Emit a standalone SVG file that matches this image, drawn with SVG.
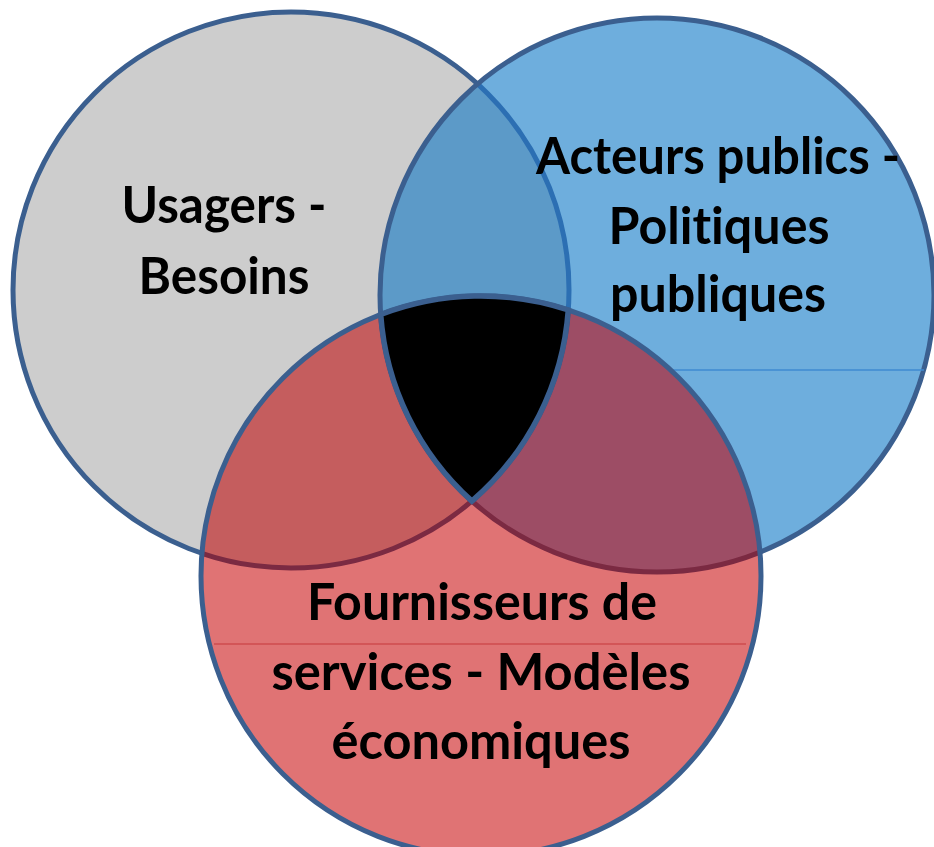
<svg xmlns="http://www.w3.org/2000/svg" width="934" height="847" viewBox="0 0 934 847">
  <style>
    .lbl { font-family: Lato, "Open Sans", "Liberation Sans", sans-serif; font-weight: bold; font-size: 51px; fill: #000; text-anchor: middle; font-variant-ligatures: none; font-feature-settings: "liga" 0, "clig" 0; }
    .edge { fill: none; stroke: #3b5f8f; stroke-width: 5; }
  </style>
  <defs>
    <circle id="cG" cx="291" cy="290" r="278"/>
    <circle id="cB" cx="657" cy="295" r="277"/>
    <circle id="cR" cx="481" cy="576" r="280"/>
    <clipPath id="clipG"><use href="#cG"/></clipPath>
    <clipPath id="clipB"><use href="#cB"/></clipPath>
    <clipPath id="clipR"><use href="#cR"/></clipPath>
  </defs>
  <rect width="934" height="847" fill="#ffffff"/>

  <g id="usagers">
    <use href="#cG" fill="#cdcdcd"/>
    <use href="#cG" class="edge"/>
  </g>

  <g id="acteurs">
    <use href="#cB" fill="#6eaedd"/>
    <use href="#cB" fill="#5c9ac8" clip-path="url(#clipG)"/>
    <use href="#cG" fill="none" stroke="#2c6fb3" stroke-width="5" clip-path="url(#clipB)"/>
    <use href="#cB" class="edge"/>
    <line x1="562" y1="370" x2="924" y2="370" stroke="#3f8ad0" stroke-width="1.5"/>
  </g>

  <g id="fournisseurs">
    <use href="#cR" fill="#e07374"/>
    <use href="#cR" fill="#c55d5e" clip-path="url(#clipG)"/>
    <use href="#cR" fill="#9d4d65" clip-path="url(#clipB)"/>
    <g clip-path="url(#clipR)">
      <use href="#cG" fill="none" stroke="#7b2a42" stroke-width="5"/>
      <use href="#cB" fill="none" stroke="#7b2a42" stroke-width="5"/>
    </g>
    <line x1="214" y1="644" x2="746" y2="644" stroke="#cf4b4e" stroke-width="1.5"/>
    <use href="#cR" class="edge"/>
  </g>

  <g id="centre">
    <path d="M 380.7,314.5 A 280 280 0 0 1 568.3,310 A 278 278 0 0 1 471.9,501.1 A 277 277 0 0 1 380.7,314.5 Z" fill="#000000" stroke="#3b5f8f" stroke-width="5.5" stroke-linejoin="miter"/>
  </g>

  <g id="labels">
    <text class="lbl" x="224" y="223" textLength="205" lengthAdjust="spacingAndGlyphs">Usagers -</text>
    <text class="lbl" x="224" y="294" textLength="171" lengthAdjust="spacingAndGlyphs">Besoins</text>
    <text class="lbl" x="718" y="174" textLength="364" lengthAdjust="spacingAndGlyphs">Acteurs publics -</text>
    <text class="lbl" x="719" y="244" textLength="221" lengthAdjust="spacingAndGlyphs">Politiques</text>
    <text class="lbl" x="718" y="312" textLength="216" lengthAdjust="spacingAndGlyphs">publiques</text>
    <text class="lbl" x="482" y="620" textLength="350" lengthAdjust="spacingAndGlyphs">Fournisseurs de</text>
    <text class="lbl" x="481" y="690" textLength="419" lengthAdjust="spacingAndGlyphs">services - Modèles</text>
    <text class="lbl" x="481" y="759" textLength="299" lengthAdjust="spacingAndGlyphs">économiques</text>
  </g>
</svg>
